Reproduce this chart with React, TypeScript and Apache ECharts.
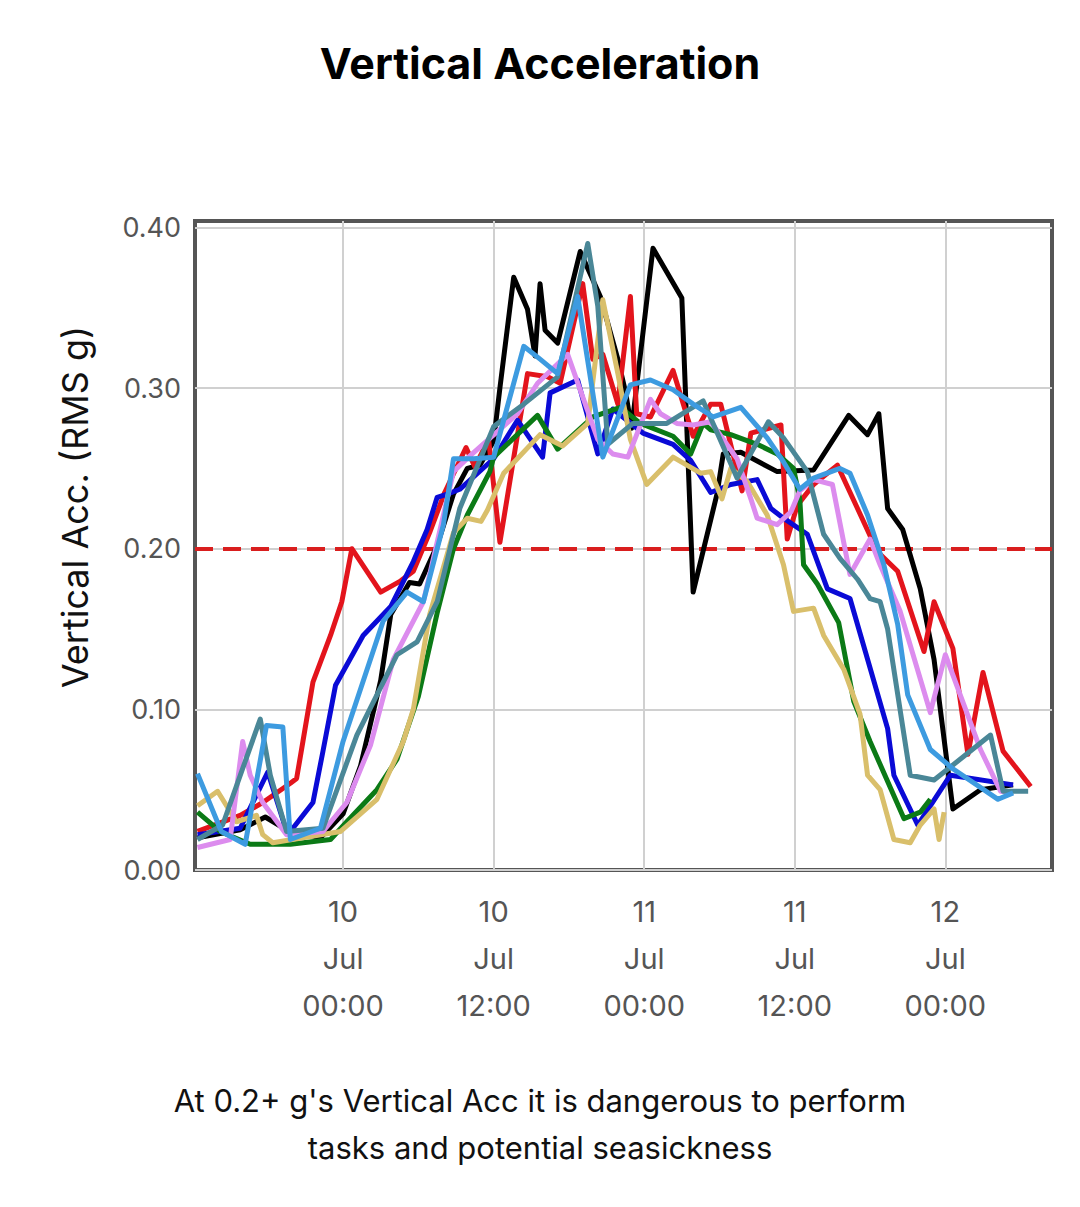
import React, { useEffect, useRef } from 'react';
import * as echarts from 'echarts';

// x values are hours relative to 10 Jul 00:00
const HOURS_MIN = -11.8;
const HOURS_MAX = 56.5;
const TICK_HOURS = [0, 12, 24, 36, 48];
const TICK_LABELS = ['10\nJul\n00:00', '10\nJul\n12:00', '11\nJul\n00:00', '11\nJul\n12:00', '12\nJul\n00:00'];
const Y_TICKS = [0, 0.1, 0.2, 0.3, 0.4];
const THRESHOLD = 0.2;

const blackData = [
  [-11.6, 0.02], [-8.2, 0.025], [-6.2, 0.033], [-4.5, 0.025], [-1.8, 0.02], [0, 0.035], [1.4, 0.065],
  [3.0, 0.118], [3.8, 0.159], [5.3, 0.179], [6.1, 0.178], [7.5, 0.202], [8.8, 0.234], [9.9, 0.25],
  [10.9, 0.252], [12.0, 0.267], [12.5, 0.3], [13.6, 0.369], [14.7, 0.349], [15.3, 0.32], [15.7, 0.365],
  [16.1, 0.336], [17.1, 0.328], [18.9, 0.385], [20.5, 0.357], [21.9, 0.318], [22.5, 0.298], [23.0, 0.275],
  [24.7, 0.387], [27.0, 0.356], [27.9, 0.173], [29.8, 0.234], [30.3, 0.259], [31.7, 0.26], [34.6, 0.248],
  [37.5, 0.249], [40.3, 0.283], [41.8, 0.271], [42.7, 0.284], [43.4, 0.225], [44.6, 0.212], [46.0, 0.175],
  [47.1, 0.131], [48.6, 0.038], [50.8, 0.05], [53.4, 0.053],
];
const redData = [
  [-11.6, 0.024], [-8.2, 0.034], [-6.4, 0.042], [-4.2, 0.054], [-3.7, 0.057], [-3.2, 0.08], [-2.4, 0.117],
  [-1.0, 0.146], [-0.1, 0.167], [0.7, 0.2], [3.0, 0.173], [4.6, 0.18], [5.6, 0.186], [6.9, 0.21],
  [8.1, 0.235], [9.8, 0.263], [10.5, 0.251], [11.6, 0.268], [12.5, 0.204], [14.7, 0.309], [16.3, 0.307],
  [17.3, 0.303], [19.1, 0.365], [19.9, 0.318], [20.7, 0.321], [21.9, 0.29], [22.9, 0.357], [23.4, 0.284],
  [24.5, 0.282], [26.3, 0.311], [27.9, 0.27], [29.3, 0.29], [30.1, 0.29], [31.8, 0.236], [32.5, 0.272],
  [34.9, 0.277], [35.4, 0.206], [36.2, 0.227], [37.5, 0.24], [39.4, 0.252], [41.0, 0.225], [42.6, 0.198],
  [44.2, 0.186], [46.3, 0.136], [47.1, 0.167], [48.6, 0.138], [49.8, 0.072], [51.0, 0.123], [52.6, 0.074],
  [54.8, 0.052],
];
const blueData = [
  [-11.6, 0.022], [-8.2, 0.026], [-6.0, 0.061], [-4.5, 0.024], [-4.0, 0.026], [-2.4, 0.042], [-1.6, 0.074],
  [-0.6, 0.115], [1.6, 0.146], [3.8, 0.164], [5.6, 0.192], [6.7, 0.212], [7.5, 0.232], [8.3, 0.234],
  [9.3, 0.237], [12.0, 0.256], [13.9, 0.28], [15.9, 0.257], [16.5, 0.297], [18.7, 0.305], [20.3, 0.259],
  [21.5, 0.287], [23.9, 0.272], [26.3, 0.265], [27.7, 0.255], [29.3, 0.235], [30.9, 0.24], [33.0, 0.243],
  [34.1, 0.225], [35.1, 0.219], [37.0, 0.209], [38.6, 0.175], [40.4, 0.169], [43.4, 0.088], [43.9, 0.059],
  [45.8, 0.028], [48.4, 0.059], [53.4, 0.053],
];
const greenData = [
  [-11.6, 0.036], [-9.8, 0.024], [-7.4, 0.016], [-4.2, 0.016], [-1.0, 0.019], [0.3, 0.03], [2.7, 0.05],
  [4.3, 0.069], [6.0, 0.108], [7.5, 0.16], [8.8, 0.2], [9.9, 0.221], [11.7, 0.248], [12.0, 0.257],
  [15.5, 0.283], [17.1, 0.262], [19.9, 0.282], [22.1, 0.288], [23.7, 0.278], [26.3, 0.27], [27.7, 0.259],
  [28.7, 0.278], [29.3, 0.274], [30.9, 0.271], [33.0, 0.265], [34.6, 0.259], [35.9, 0.25], [36.4, 0.231],
  [36.7, 0.19], [37.8, 0.178], [39.5, 0.154], [40.7, 0.105], [42.0, 0.08], [44.7, 0.032], [46.0, 0.036],
  [46.8, 0.044],
];
const khakiData = [
  [-11.6, 0.04], [-10.0, 0.049], [-8.5, 0.03], [-6.9, 0.034], [-6.4, 0.022], [-5.6, 0.017], [-0.2, 0.024],
  [2.7, 0.044], [4.8, 0.08], [5.6, 0.1], [6.9, 0.159], [8.8, 0.21], [9.9, 0.219], [11.0, 0.217],
  [11.5, 0.224], [12.8, 0.247], [15.7, 0.271], [17.5, 0.264], [19.5, 0.278], [20.7, 0.355], [21.9, 0.309],
  [22.9, 0.268], [24.2, 0.24], [26.3, 0.257], [28.5, 0.247], [29.3, 0.248], [30.2, 0.231], [30.9, 0.25],
  [32.2, 0.242], [33.8, 0.221], [35.1, 0.19], [35.9, 0.161], [37.5, 0.163], [38.3, 0.146], [39.9, 0.125],
  [41.2, 0.097], [41.8, 0.059], [42.8, 0.05], [43.9, 0.019], [45.2, 0.017], [46.0, 0.028], [47.1, 0.038],
  [47.5, 0.019], [47.9, 0.036],
];
const violetData = [
  [-11.6, 0.014], [-9.0, 0.019], [-8.0, 0.08], [-7.4, 0.059], [-6.4, 0.042], [-4.5, 0.022], [-1.6, 0.024],
  [0.3, 0.042], [2.2, 0.078], [4.0, 0.131], [6.4, 0.167], [8.8, 0.248], [10.0, 0.257], [13.9, 0.284],
  [15.5, 0.303], [17.9, 0.321], [20.3, 0.268], [21.5, 0.259], [22.7, 0.257], [24.5, 0.293], [25.3, 0.284],
  [26.6, 0.278], [27.9, 0.277], [29.3, 0.279], [31.4, 0.256], [32.5, 0.231], [33.0, 0.219], [34.6, 0.215],
  [35.7, 0.223], [36.4, 0.236], [37.5, 0.243], [39.0, 0.24], [40.4, 0.184], [42.0, 0.206], [42.8, 0.19],
  [44.4, 0.161], [46.8, 0.098], [48.0, 0.134], [50.8, 0.075], [52.4, 0.049], [53.4, 0.048],
];
const tealData = [
  [-11.6, 0.019], [-9.6, 0.028], [-6.6, 0.094], [-5.8, 0.059], [-4.5, 0.024], [-1.6, 0.026], [1.1, 0.084],
  [4.3, 0.134], [5.9, 0.142], [7.5, 0.167], [9.3, 0.225], [12.0, 0.276], [14.4, 0.29], [17.1, 0.307],
  [19.5, 0.39], [20.3, 0.351], [21.1, 0.265], [23.1, 0.278], [25.8, 0.278], [28.7, 0.292], [31.4, 0.244],
  [33.9, 0.279], [35.1, 0.269], [37.0, 0.248], [38.3, 0.209], [39.6, 0.194], [41.0, 0.181], [42.0, 0.169],
  [42.8, 0.167], [43.4, 0.15], [45.2, 0.059], [47.1, 0.056], [51.6, 0.084], [52.6, 0.049], [54.6, 0.049],
];
const lightBlueData = [
  [-11.6, 0.06], [-9.7, 0.024], [-7.8, 0.016], [-6.1, 0.09], [-4.8, 0.089], [-4.2, 0.019], [-1.8, 0.026],
  [0, 0.08], [3.2, 0.155], [5.1, 0.173], [6.4, 0.167], [8.0, 0.215], [8.8, 0.256], [10.4, 0.256],
  [12.0, 0.257], [14.4, 0.326], [15.7, 0.318], [17.1, 0.309], [18.7, 0.357], [20.7, 0.257], [22.9, 0.302],
  [24.5, 0.305], [26.3, 0.299], [27.9, 0.29], [29.5, 0.282], [31.7, 0.288], [33.8, 0.269], [35.1, 0.254],
  [36.4, 0.237], [37.5, 0.244], [39.6, 0.25], [40.4, 0.247], [41.8, 0.221], [43.1, 0.19], [44.2, 0.153],
  [45.0, 0.109], [46.8, 0.075], [48.6, 0.063], [52.2, 0.044], [53.4, 0.048],
];

const FONT = 'Inter, Roboto, "Noto Sans", sans-serif';

function line(name: string, data: number[][], color: string, extra: object = {}) {
  return {
    name,
    type: 'line',
    data,
    symbol: 'none',
    lineStyle: { color, width: 5, join: 'round' },
    itemStyle: { color },
    z: 3,
    ...extra,
  };
}

function VerticalAccChart() {
  const chartRef = useRef<HTMLDivElement>(null);

  useEffect(() => {
    if (!chartRef.current) return;
    const chart = echarts.init(chartRef.current, null, { renderer: 'svg' });
    chart.setOption({
      animation: false,
      backgroundColor: '#fff',
      title: {
        text: 'Vertical Acceleration',
        left: 'center',
        top: 36,
        textStyle: { fontFamily: FONT, fontSize: 43, fontWeight: 'bold', color: '#000' },
      },
      grid: {
        left: 195,
        right: 28,
        top: 221,
        bottom: 337,
        show: true,
        borderColor: '#555',
        borderWidth: 4,
        backgroundColor: '#fff',
      },
      xAxis: {
        type: 'value',
        min: HOURS_MIN,
        max: HOURS_MAX,
        axisLine: { show: false },
        axisTick: { show: false, customValues: TICK_HOURS },
        splitLine: { show: true, lineStyle: { color: '#d0d0d0', width: 2 } },
        axisLabel: {
          customValues: TICK_HOURS,
          formatter: (v: number) => TICK_LABELS[TICK_HOURS.indexOf(v)] ?? '',
          color: '#555',
          fontFamily: FONT,
          fontSize: 29,
          lineHeight: 47,
          margin: 18,
        },
      },
      yAxis: {
        type: 'value',
        min: 0,
        max: 0.404,
        interval: 0.1,
        axisLine: { show: false },
        axisTick: { show: false, customValues: Y_TICKS },
        splitLine: { show: true, lineStyle: { color: '#d0d0d0', width: 2 } },
        axisLabel: {
          customValues: Y_TICKS,
          formatter: (v: number) => v.toFixed(2),
          color: '#555',
          fontFamily: FONT,
          fontSize: 27,
          margin: 14,
        },
      },
      graphic: [
        {
          type: 'text',
          x: 75,
          y: 507,
          rotation: Math.PI / 2,
          style: {
            text: 'Vertical Acc. (RMS g)',
            fontFamily: FONT,
            fontSize: 36,
            fill: '#111',
            align: 'center',
            verticalAlign: 'middle',
          },
        },
        {
          type: 'text',
          x: 540,
          y: 1124,
          style: {
            text: "At 0.2+ g's Vertical Acc it is dangerous to perform\ntasks and potential seasickness",
            fontFamily: FONT,
            fontSize: 31,
            lineHeight: 47,
            fill: '#111',
            align: 'center',
            verticalAlign: 'middle',
          },
        },
      ],
      series: [
        line('Black', blackData, '#000000', {
          markLine: {
            silent: true,
            symbol: 'none',
            label: { show: false },
            lineStyle: { color: '#d91e1e', width: 4, type: [18, 10] },
            data: [{ yAxis: THRESHOLD }],
            z: 2,
          },
        }),
        line('Red', redData, '#e3141c'),
        line('Blue', blueData, '#0a0ad6'),
        line('Green', greenData, '#0b7a16'),
        line('Khaki', khakiData, '#d9bf6b'),
        line('Violet', violetData, '#dc8cee'),
        line('Teal', tealData, '#4a8797'),
        line('Light blue', lightBlueData, '#3d9be0'),
      ],
    });
    return () => {
      chart.dispose();
    };
  }, []);

  return <div ref={chartRef} style={{ position: 'absolute', left: 0, top: 0, width: 1080, height: 1207 }} />;
}

export default function App() {
  return <VerticalAccChart />;
}
